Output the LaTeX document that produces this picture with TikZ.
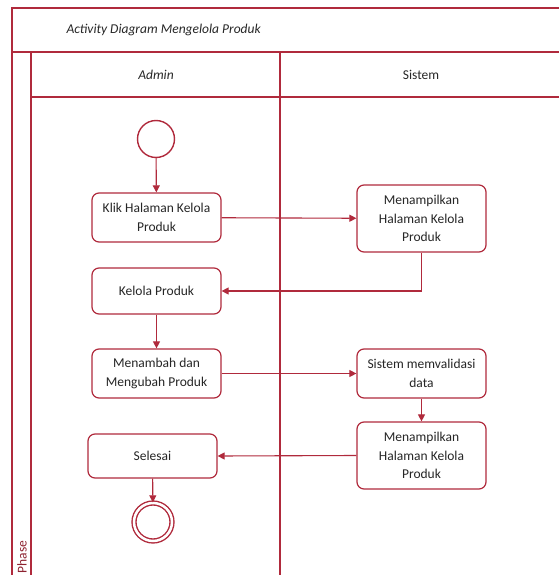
\documentclass[tikz,border=0pt]{standalone}
\usepackage{fontspec}
\setmainfont{Carlito}
\usetikzlibrary{arrows.meta,positioning}
\definecolor{lane}{HTML}{B02A3C}
\begin{document}
\begin{tikzpicture}[x=1pt,y=-1pt,
  every node/.style={font=\fontsize{13.5}{18.5}\selectfont, text=black!85},
  act/.style={draw=lane, line width=1.2pt, rounded corners=7pt, fill=white,
    minimum width=129pt, align=center, inner sep=2pt},
  flow/.style={draw=lane, line width=1.1pt, -{Triangle[length=7pt,width=7pt]}},
  frame/.style={draw=lane, line width=1.2pt}]
\useasboundingbox (0,0) rectangle (558,575);
% swimlane frame
\draw[frame] (12,580) -- (12,8) -- (565,8);
\draw[frame] (12,52) -- (565,52);
\draw[frame] (31,52) -- (31,580);
\draw[frame] (280,52) -- (280,580);
\draw[frame] (31,97) -- (565,97);
\node[anchor=west, font=\itshape\fontsize{13.5}{18}\selectfont] (title) at (63,30) {Activity Diagram Mengelola Produk};
\node[font=\itshape\fontsize{13.5}{18}\selectfont] (admin) at (156,75) {Admin};
\node (sistem) at (421,75) {Sistem};
\node[rotate=90, anchor=west, text=lane!80!black] (phase) at (22,577) {Phase};
% start / end
\node[draw=lane, line width=1.4pt, circle, minimum size=37pt, inner sep=0pt] (start) at (156,139) {};
\node[draw=lane, line width=1.4pt, circle, minimum size=38pt, inner sep=0pt,
  double=white, double distance=2.5pt] (end) at (153,522) {};
% admin actions
\node[act, minimum height=49pt] (klik) at (156.5,217.5) {Klik Halaman Kelola\\Produk};
\node[act, minimum height=46pt] (kelola) at (156.5,291) {Kelola Produk};
\node[act, minimum height=49pt] (tambah) at (156.5,373.5) {Menambah dan\\Mengubah Produk};
\node[act, minimum height=44pt] (selesai) at (152.5,456) {Selesai};
% system actions
\node[act, minimum height=67pt] (tampil1) at (421.5,218.5) {Menampilkan\\Halaman Kelola\\Produk};
\node[act, minimum height=49pt] (valid) at (421.5,373.5) {Sistem memvalidasi\\data};
\node[act, minimum height=67pt] (tampil2) at (421.5,455.5) {Menampilkan\\Halaman Kelola\\Produk};
% flows
\draw[flow] (start) -- (klik);
\draw[flow] (klik) -- (tampil1);
\draw[flow] (tampil1.south) |- (kelola.east);
\draw[flow] (kelola) -- (tambah);
\draw[flow] (tambah) -- (valid);
\draw[flow] (valid) -- (tampil2);
\draw[flow] (tampil2.west) -- (selesai.east);
\draw[flow] (selesai) -- (end);
\end{tikzpicture}
\end{document}
